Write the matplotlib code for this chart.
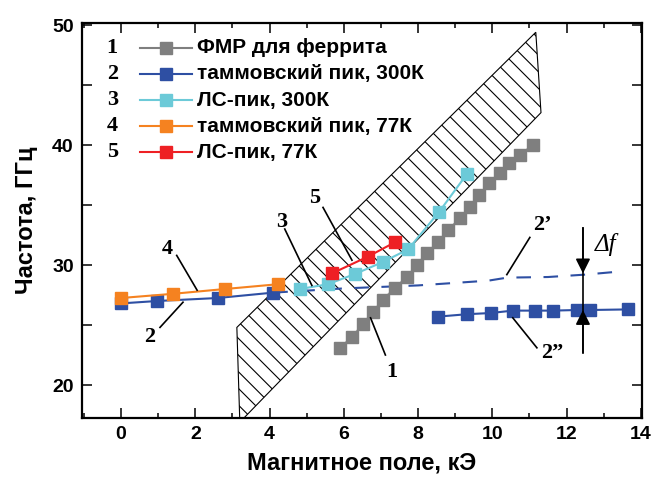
import matplotlib
matplotlib.use("Agg")
import matplotlib.pyplot as plt
import matplotlib.ticker as ticker
from matplotlib.patches import Polygon

plt.rcParams['font.family'] = ['Liberation Sans', 'DejaVu Sans']
plt.rcParams['hatch.linewidth'] = 0.8

# ---- data ----
# 1: FMR of ferrite
fmr_h = [5.9, 6.22, 6.52, 6.79, 7.05, 7.38, 7.7, 7.97, 8.24, 8.54, 8.8, 9.13,
         9.4, 9.65, 9.9, 10.2, 10.45, 10.74, 11.1]
fmr_f = [23.1, 24.0, 25.1, 26.1, 27.1, 28.1, 29.0, 30.0, 31.0, 31.9, 32.9, 33.9,
         34.8, 35.8, 36.8, 37.7, 38.5, 39.2, 40.0]

# 2: Tamm peak, 300K (low field part, dashed continuation 2', high field part 2'')
tamm300_h = [0.0, 0.97, 2.6, 4.1]
tamm300_f = [26.8, 27.0, 27.25, 27.7]
tamm300_dash_h = [4.1, 6.0, 8.0, 9.9, 10.4, 11.5, 12.5, 13.4]
tamm300_dash_f = [27.7, 28.05, 28.3, 28.7, 28.95, 29.0, 29.2, 29.45]
tamm300_hi_h = [8.54, 9.32, 9.96, 10.55, 11.15, 11.63, 12.28, 12.63, 13.65]
tamm300_hi_f = [25.7, 25.9, 26.0, 26.2, 26.2, 26.2, 26.25, 26.25, 26.3]

# 3: LS peak, 300K
ls300_h = [4.82, 5.57, 6.3, 7.05, 7.73, 8.56, 9.32]
ls300_f = [28.0, 28.4, 29.25, 30.25, 31.3, 34.4, 37.6]

# 4: Tamm peak, 77K
tamm77_h = [0.0, 1.4, 2.8, 4.23]
tamm77_f = [27.25, 27.6, 28.0, 28.4]

# 5: LS peak, 77K
ls77_h = [5.68, 6.65, 7.38]
ls77_f = [29.3, 30.7, 31.9]

# hatched region
band_h = [3.12, 11.17, 11.31, 3.2]
band_f = [24.8, 49.4, 42.7, 16.9]

# delta f marker: field, top of line, arrow tips, bottom of line
df_h = 12.44
df_top, df_tip_down, df_tip_up, df_bottom = 33.1, 29.3, 26.25, 22.7

legend_labels = ['ФМР для феррита', 'таммовский пик, 300К', 'ЛС-пик, 300К',
                 'таммовский пик, 77К', 'ЛС-пик, 77К']

c_gray = '#7f7f7f'
c_blue = '#2e4fa3'
c_cyan = '#6ccad8'
c_orange = '#f58220'
c_red = '#ee2024'
colors = [c_gray, c_blue, c_cyan, c_orange, c_red]

fig = plt.figure(figsize=(6.62, 4.79), dpi=100)
ax = fig.add_axes([82 / 662, 1 - 418 / 479, 560 / 662, 395 / 479])

ax.add_patch(Polygon(list(zip(band_h, band_f)), closed=True, facecolor='none',
                     edgecolor='black', linewidth=0.8, hatch='\\\\', zorder=1))

ms = 8.5
ax.plot(fmr_h, fmr_f, color='#9a9a9a', lw=1.5, marker='s', ms=8.5,
        mfc=c_gray, mec=c_gray, zorder=3)
ax.plot(tamm300_dash_h, tamm300_dash_f, color=c_blue, lw=1.5,
        dashes=(7, 6), zorder=2)
ax.plot(tamm300_h, tamm300_f, color=c_blue, lw=1.5, marker='s', ms=ms,
        mfc=c_blue, mec=c_blue, zorder=3)
ax.plot(tamm300_hi_h, tamm300_hi_f, color=c_blue, lw=1.5, marker='s', ms=ms,
        mfc=c_blue, mec=c_blue, zorder=3)
ax.plot(tamm77_h, tamm77_f, color=c_orange, lw=1.5, marker='s', ms=ms,
        mfc=c_orange, mec=c_orange, zorder=4)
ax.plot(ls300_h, ls300_f, color=c_cyan, lw=1.5, marker='s', ms=ms,
        mfc=c_cyan, mec=c_cyan, zorder=4)
ax.plot(ls77_h, ls77_f, color=c_red, lw=1.5, marker='s', ms=ms,
        mfc=c_red, mec=c_red, zorder=4)

# legend drawn by hand: number, line with marker, text
for i, (lab, col) in enumerate(zip(legend_labels, colors)):
    y = 0.937 - i * 0.066
    ax.text(0.054, y, str(i + 1), transform=ax.transAxes, ha='center', va='center',
            fontsize=16, fontweight='bold', family='Liberation Serif')
    ax.plot([0.104, 0.150, 0.196], [y, y, y], transform=ax.transAxes, color=col,
            lw=1.5, marker='s', ms=ms, markevery=[1], mfc=col, mec=col)
    ax.text(0.205, y, lab, transform=ax.transAxes, ha='left', va='center',
            fontsize=15, fontweight='bold')

# curve labels with leader lines
serif = dict(fontsize=16, fontweight='bold', family='Liberation Serif',
             ha='center', va='center')
leaders = [
    ('1', (7.3, 21.1), (7.12, 22.5), (6.72, 25.6)),
    ('2', (0.78, 24.0), (1.05, 24.8), (1.67, 26.9)),
    ('4', (1.24, 31.3), (1.5, 30.8), (2.05, 27.9)),
    ('3', (4.33, 33.6), (4.41, 33.0), (5.14, 28.3)),
    ('5', (5.22, 35.6), (5.44, 34.8), (6.22, 30.4)),
    ("2’", (11.36, 33.3), (11.01, 32.3), (10.39, 29.2)),
    ('2”', (11.6, 22.7), (11.2, 23.1), (10.55, 25.6)),
]
for txt, tpos, p0, p1 in leaders:
    ax.text(tpos[0], tpos[1], txt, **serif)
    ax.plot([p0[0], p1[0]], [p0[1], p1[1]], color='black', lw=1.2, zorder=5)

# delta f marker
ax.plot([df_h, df_h], [df_bottom, df_top], color='black', lw=1.2, zorder=5)
ax.annotate('', xy=(df_h, df_tip_down), xytext=(df_h, df_top),
            arrowprops=dict(arrowstyle='-|>', color='black', lw=1.2,
                            mutation_scale=22, shrinkA=0, shrinkB=0))
ax.annotate('', xy=(df_h, df_tip_up), xytext=(df_h, df_bottom),
            arrowprops=dict(arrowstyle='-|>', color='black', lw=1.2,
                            mutation_scale=22, shrinkA=0, shrinkB=0))
ax.text(13.05, 31.7, 'Δf', fontsize=18, ha='center', va='center',
        family='Liberation Serif', fontstyle='italic')

ax.set_xlim(-1.05, 14.03)
ax.set_ylim(17.25, 50.17)
ax.xaxis.set_major_locator(ticker.MultipleLocator(2))
ax.xaxis.set_minor_locator(ticker.MultipleLocator(1))
ax.yaxis.set_major_locator(ticker.MultipleLocator(10))
ax.yaxis.set_minor_locator(ticker.MultipleLocator(5))
ax.tick_params(which='both', direction='in', top=True, right=True, width=1.1,
               labelsize=14, pad=6)
ax.tick_params(which='major', length=7)
ax.tick_params(axis='x', which='minor', length=3.5)
ax.tick_params(axis='y', which='minor', length=7)
for lbl in ax.get_xticklabels() + ax.get_yticklabels():
    lbl.set_fontweight('bold')
for sp in ax.spines.values():
    sp.set_linewidth(1.6)

ax.set_xlabel('Магнитное поле, кЭ', fontsize=17, fontweight='bold', labelpad=6)
ax.set_ylabel('Частота, ГГц', fontsize=17, fontweight='bold', labelpad=10)

fig.savefig('out.png', dpi=100)
